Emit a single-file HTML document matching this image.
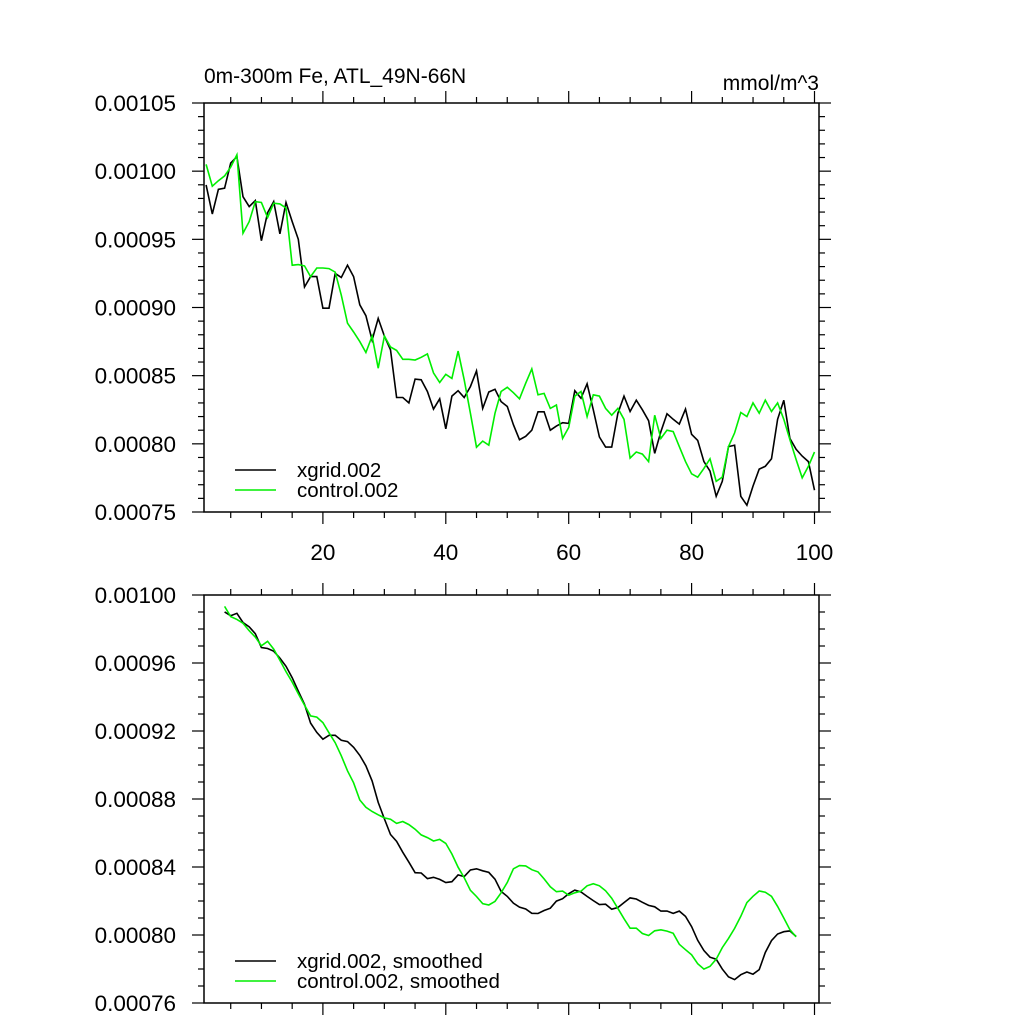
<!DOCTYPE html>
<html><head><meta charset="utf-8"><style>
html,body{margin:0;padding:0;background:#fff;}
svg{display:block;font-family:"Liberation Sans",sans-serif;}
</style></head><body>
<svg id="chart" width="1024" height="1024" xmlns="http://www.w3.org/2000/svg">
<text x="204" y="83" font-size="21">0m-300m Fe, ATL_49N-66N</text>
<text x="819" y="90" font-size="21" text-anchor="end">mmol/m^3</text>
<g id="top"></g>
<g id="bottom"></g>
</svg>
<script>
// raw series (units of 1e-5 mmol/m^3), x = 1..100
const xgrid = [98.99,96.86,98.67,98.75,100.6,101.06,98.13,97.4,97.84,94.9,96.96,97.77,95.4,97.7,96.3,95.0,91.5,92.27,92.27,89.95,89.95,92.5,92.2,93.1,92.27,90.2,89.4,87.6,89.2,87.9,86.9,83.4,83.4,83.0,84.75,84.7,83.84,82.55,83.3,81.1,83.5,83.9,83.4,84.2,85.35,82.6,83.8,84.0,83.1,82.74,81.4,80.3,80.55,81.0,82.35,82.35,81.0,81.3,81.55,81.5,83.9,83.35,84.4,82.5,80.5,79.76,79.76,82.25,83.5,82.37,83.2,82.5,81.7,79.3,80.9,82.2,81.8,81.45,82.55,80.7,80.25,78.7,78.0,76.15,77.25,79.8,79.9,76.15,75.5,76.9,78.15,78.35,78.9,81.8,83.2,80.4,79.6,79.1,78.7,76.6];
const control = [100.5,98.9,99.3,99.65,100.3,101.2,95.45,96.3,97.77,97.7,96.6,97.65,97.6,97.3,93.1,93.15,93.05,92.27,92.9,92.9,92.85,92.6,90.9,88.85,88.2,87.5,86.7,87.9,85.55,87.9,87.1,86.85,86.2,86.2,86.15,86.35,86.6,85.2,84.5,85.1,84.8,86.8,84.7,82.25,79.75,80.2,79.9,82.25,83.84,84.15,83.75,83.3,84.45,85.5,83.6,83.7,82.6,82.85,80.4,81.2,83.5,83.84,82.0,83.6,83.5,82.6,82.1,82.6,81.8,78.95,79.4,79.25,78.7,82.1,80.4,81.0,80.9,79.8,78.7,77.8,77.55,78.2,78.9,77.25,77.55,79.8,80.8,82.3,82.0,83.0,82.25,83.2,82.37,83.0,81.8,80.3,78.85,77.5,78.35,79.4];
const topTicks = ["0.00075","0.00080","0.00085","0.00090","0.00095","0.00100","0.00105"];
const botTicks = ["0.00076","0.00080","0.00084","0.00088","0.00092","0.00096","0.00100"];
const xTicks = [20,40,60,80,100];
const smoothWindow = 7;

const NS="http://www.w3.org/2000/svg";
const L=204,R=819;
function xs(x){return 200+x*6.145;}
function mk(tag,parent){const e=document.createElementNS(NS,tag);parent.appendChild(e);return e;}
function smooth(a,w){const h=(w-1)/2,out=[];for(let i=h;i<a.length-h;i++){let s=0;for(let j=i-h;j<=i+h;j++)s+=a[j];out.push({x:i+1,v:s/w});}return out;}

function panel(g,T,B,vmin,vmax,ticks,minorStep,showX,series,legend){
  const ys=v=>B-(v-vmin)/(vmax-vmin)*(B-T);
  const fr=mk('rect',g);
  
  
  fr.setAttribute('x',L);fr.setAttribute('y',T);fr.setAttribute('width',R-L);fr.setAttribute('height',B-T);
  fr.setAttribute('fill','none');fr.setAttribute('stroke','#000');fr.setAttribute('stroke-width','1.5');
  const nMinor=Math.round((vmax-vmin)/minorStep);
  const majEvery=nMinor/(ticks.length-1);
  for(let k=0;k<=nMinor;k++){
    const v=vmin+k*minorStep,y=ys(v),maj=k%majEvery===0,len=maj?12:6;
    [[L,L-len],[R,R+len]].forEach(p=>{const t=mk('line',g);
      
      
      t.setAttribute('x1',p[0]);t.setAttribute('x2',p[1]);t.setAttribute('y1',y);t.setAttribute('y2',y);t.setAttribute('stroke','#000');t.setAttribute('stroke-width','1.2');});
  }
  ticks.forEach((s,k)=>{const v=vmin+k*(vmax-vmin)/(ticks.length-1);const t=mk('text',g);
    
    
    t.setAttribute('x',176);t.setAttribute('y',ys(v)+8);t.setAttribute('text-anchor','end');t.setAttribute('font-size','22.5');t.textContent=s;});
  for(let x=5;x<=100;x+=5){const maj=x%20===0,len=maj?12:6,px=xs(x);
    [[B,B+len],[T,T-len]].forEach(p=>{const t=mk('line',g);
      
      
      t.setAttribute('x1',px);t.setAttribute('x2',px);t.setAttribute('y1',p[0]);t.setAttribute('y2',p[1]);t.setAttribute('stroke','#000');t.setAttribute('stroke-width','1.2');});}
  if(showX) xTicks.forEach(x=>{const t=mk('text',g);
    
    
    t.setAttribute('x',xs(x));t.setAttribute('y',B+48);t.setAttribute('text-anchor','middle');t.setAttribute('font-size','22.5');t.textContent=x;});
  series.forEach((s,k)=>{const p=mk('polyline',g);
    
    
    p.setAttribute('points',s.pts.map(d=>xs(d.x).toFixed(1)+','+ys(d.v).toFixed(1)).join(' '));
    p.setAttribute('fill','none');p.setAttribute('stroke',s.color);p.setAttribute('stroke-width','1.6');
    const ly=B-42+k*20;
    const ll=mk('line',g);
    
    
    ll.setAttribute('x1',235);ll.setAttribute('x2',276);ll.setAttribute('y1',ly);ll.setAttribute('y2',ly);ll.setAttribute('stroke',s.color);ll.setAttribute('stroke-width','1.6');
    const lt=mk('text',g);
    
    
    lt.setAttribute('x',297);lt.setAttribute('y',ly+7);lt.setAttribute('font-size','20.5');lt.textContent=legend[k];});
}
const raw=a=>a.map((v,i)=>({x:i+1,v:v}));
panel(document.getElementById('top'),103,512,75,105,topTicks,1,true,
  [{name:'xgrid-line',color:'#000',pts:raw(xgrid)},{name:'control-line',color:'#00ee00',pts:raw(control)}],
  ['xgrid.002','control.002']);
panel(document.getElementById('bottom'),595,1003,76,100,botTicks,1,false,
  [{name:'xgrid-smoothed-line',color:'#000',pts:smooth(xgrid,smoothWindow)},{name:'control-smoothed-line',color:'#00ee00',pts:smooth(control,smoothWindow)}],
  ['xgrid.002, smoothed','control.002, smoothed']);
</script>
</body></html>
